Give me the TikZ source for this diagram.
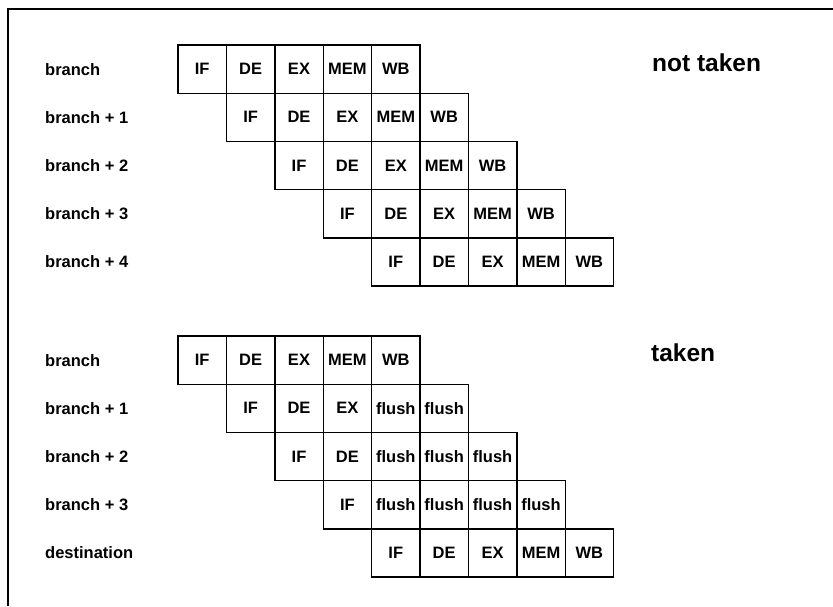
\documentclass[tikz,border=0pt]{standalone}
\usepackage{fontspec}
\setmainfont{Liberation Sans}
\usetikzlibrary{positioning}

\begin{document}
\begin{tikzpicture}[
    x=1pt, y=-1pt,
    every node/.style={align=center},
    stagebox/.style={rectangle, draw=black, line width=1.4pt, minimum width=48.4pt, minimum height=48.2pt, inner sep=0pt, font=\fontsize{16.5}{18}\selectfont\bfseries},
    rowlabel/.style={anchor=west, inner sep=0pt, font=\fontsize{16.5}{18}\selectfont\bfseries},
    casetitle/.style={anchor=west, inner sep=0pt, font=\fontsize{24.5}{28}\selectfont\bfseries},
    frameline/.style={line width=2pt}
]
\useasboundingbox (0,0) rectangle (833,606);

% Frame (open at right and bottom)
\coordinate (frametl) at (8,9);
\coordinate (frametr) at (833,9);
\coordinate (framebl) at (8,606);
\draw[frameline] (framebl) -- (frametl) -- (frametr);

% Branch not taken
\node[casetitle] (nottaken) at (652,63) {not taken};
\foreach \r/\lab in {0/branch, 1/branch + 1, 2/branch + 2, 3/branch + 3, 4/branch + 4}
  \node[rowlabel] (nt-lbl-\r) at (45,{45+48.2*(\r+0.5)}) {\lab};
\foreach \r in {0,...,4}
  \foreach \st [count=\k from 0] in {IF,DE,EX,MEM,WB}
    \node[stagebox] (nt-\r-\k) at ({178+48.4*(\r+\k+0.5)},{45+48.2*(\r+0.5)}) {\st};

% Branch taken
\node[casetitle] (taken) at (651,353) {taken};
\foreach \r/\lab in {0/branch, 1/branch + 1, 2/branch + 2, 3/branch + 3, 4/destination}
  \node[rowlabel] (tk-lbl-\r) at (45,{336+48.2*(\r+0.5)}) {\lab};
\foreach \r/\stages in {0/{IF,DE,EX,MEM,WB}, 1/{IF,DE,EX,flush,flush}, 2/{IF,DE,flush,flush,flush}, 3/{IF,flush,flush,flush,flush}, 4/{IF,DE,EX,MEM,WB}}
  \foreach \st [count=\k from 0] in \stages
    \node[stagebox] (tk-\r-\k) at ({178+48.4*(\r+\k+0.5)},{336+48.2*(\r+0.5)}) {\st};

\end{tikzpicture}
\end{document}
